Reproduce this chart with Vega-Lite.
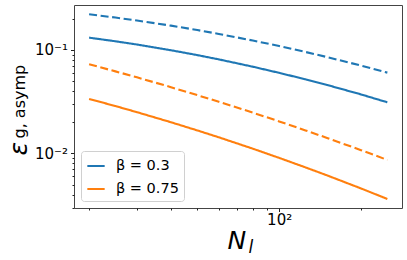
{
  "$schema": "https://vega.github.io/schema/vega-lite/v6.json",
  "width": 328,
  "height": 203,
  "autosize": {"type": "none"},
  "padding": {"left": 74, "top": 5, "right": 5, "bottom": 52},
  "background": "white",
  "config": {
    "font": "DejaVu Sans",
    "view": {"stroke": "#444", "strokeWidth": 1},
    "axis": {
      "labelFont": "DejaVu Sans",
      "titleFont": "DejaVu Sans",
      "domain": false,
      "grid": false,
      "tickColor": "#222",
      "tickWidth": 1,
      "labelColor": "#000",
      "titleColor": "#000",
      "labelFontSize": 15,
      "titleFontWeight": "normal"
    },
    "legend": {
      "orient": "bottom-left",
      "offset": 7,
      "strokeColor": "#d0d0d0",
      "cornerRadius": 3,
      "fillColor": "white",
      "padding": 5,
      "symbolType": "stroke",
      "symbolStrokeWidth": 2,
      "symbolSize": 300,
      "labelFont": "DejaVu Sans",
      "labelFontSize": 14.5,
      "labelColor": "#000",
      "labelOffset": 10,
      "rowPadding": 6
    }
  },
  "data": {
    "values": [
      {"N": 20, "b": 0.3, "s": "dashed", "eps": 0.2213},
      {"N": 25, "b": 0.3, "s": "dashed", "eps": 0.2057},
      {"N": 30, "b": 0.3, "s": "dashed", "eps": 0.1926},
      {"N": 40, "b": 0.3, "s": "dashed", "eps": 0.1718},
      {"N": 50, "b": 0.3, "s": "dashed", "eps": 0.1557},
      {"N": 60, "b": 0.3, "s": "dashed", "eps": 0.1429},
      {"N": 80, "b": 0.3, "s": "dashed", "eps": 0.1234},
      {"N": 100, "b": 0.3, "s": "dashed", "eps": 0.1091},
      {"N": 125, "b": 0.3, "s": "dashed", "eps": 0.0956},
      {"N": 150, "b": 0.3, "s": "dashed", "eps": 0.0854},
      {"N": 200, "b": 0.3, "s": "dashed", "eps": 0.0706},
      {"N": 250, "b": 0.3, "s": "dashed", "eps": 0.0604},
      {"N": 20, "b": 0.3, "s": "solid", "eps": 0.1315},
      {"N": 25, "b": 0.3, "s": "solid", "eps": 0.1213},
      {"N": 30, "b": 0.3, "s": "solid", "eps": 0.1129},
      {"N": 40, "b": 0.3, "s": "solid", "eps": 0.0994},
      {"N": 50, "b": 0.3, "s": "solid", "eps": 0.0892},
      {"N": 60, "b": 0.3, "s": "solid", "eps": 0.0811},
      {"N": 80, "b": 0.3, "s": "solid", "eps": 0.0689},
      {"N": 100, "b": 0.3, "s": "solid", "eps": 0.0601},
      {"N": 125, "b": 0.3, "s": "solid", "eps": 0.052},
      {"N": 150, "b": 0.3, "s": "solid", "eps": 0.0459},
      {"N": 200, "b": 0.3, "s": "solid", "eps": 0.0372},
      {"N": 250, "b": 0.3, "s": "solid", "eps": 0.0312},
      {"N": 20, "b": 0.75, "s": "dashed", "eps": 0.0728},
      {"N": 25, "b": 0.75, "s": "dashed", "eps": 0.0621},
      {"N": 30, "b": 0.75, "s": "dashed", "eps": 0.0544},
      {"N": 40, "b": 0.75, "s": "dashed", "eps": 0.0437},
      {"N": 50, "b": 0.75, "s": "dashed", "eps": 0.0366},
      {"N": 60, "b": 0.75, "s": "dashed", "eps": 0.0316},
      {"N": 80, "b": 0.75, "s": "dashed", "eps": 0.0248},
      {"N": 100, "b": 0.75, "s": "dashed", "eps": 0.0204},
      {"N": 125, "b": 0.75, "s": "dashed", "eps": 0.0167},
      {"N": 150, "b": 0.75, "s": "dashed", "eps": 0.01413},
      {"N": 200, "b": 0.75, "s": "dashed", "eps": 0.01076},
      {"N": 250, "b": 0.75, "s": "dashed", "eps": 0.00865},
      {"N": 20, "b": 0.75, "s": "solid", "eps": 0.03365},
      {"N": 25, "b": 0.75, "s": "solid", "eps": 0.02869},
      {"N": 30, "b": 0.75, "s": "solid", "eps": 0.02505},
      {"N": 40, "b": 0.75, "s": "solid", "eps": 0.02003},
      {"N": 50, "b": 0.75, "s": "solid", "eps": 0.01669},
      {"N": 60, "b": 0.75, "s": "solid", "eps": 0.01432},
      {"N": 80, "b": 0.75, "s": "solid", "eps": 0.01112},
      {"N": 100, "b": 0.75, "s": "solid", "eps": 0.00906},
      {"N": 125, "b": 0.75, "s": "solid", "eps": 0.00733},
      {"N": 150, "b": 0.75, "s": "solid", "eps": 0.00614},
      {"N": 200, "b": 0.75, "s": "solid", "eps": 0.00459},
      {"N": 250, "b": 0.75, "s": "solid", "eps": 0.00363}
    ]
  },
  "layer": [
    {
      "mark": {"type": "line", "strokeWidth": 2.1},
      "encoding": {
        "x": {
          "field": "N",
          "type": "quantitative",
          "scale": {"type": "log", "domain": [17.6, 283], "nice": false},
          "axis": {
            "orient": "bottom",
            "values": [20, 30, 40, 50, 60, 70, 80, 90, 100, 200],
            "labelExpr": "datum.value == 100 ? '10²' : ''",
            "labelOverlap": false,
            "labelFlush": false,
            "labelPadding": 1,
            "tickSize": {"condition": {"test": "datum.value == 100", "value": 3.5}, "value": 2},
            "title": "N",
            "titleFontSize": 25,
            "titleFontStyle": "italic",
            "titleAngle": 0,
            "titleAlign": "left",
            "titleBaseline": "alphabetic",
            "titleX": 153,
            "titleY": 40
          }
        },
        "y": {
          "field": "eps",
          "type": "quantitative",
          "scale": {"type": "log", "domain": [0.00297, 0.272], "nice": false},
          "axis": {
            "orient": "left",
            "values": [0.003, 0.004, 0.005, 0.006, 0.007, 0.008, 0.009, 0.01, 0.02, 0.03, 0.04, 0.05, 0.06, 0.07, 0.08, 0.09, 0.1, 0.2],
            "labelExpr": "datum.value == 0.1 ? '10⁻¹' : datum.value == 0.01 ? '10⁻²' : ''",
            "labelOverlap": false,
            "labelFlush": false,
            "labelPadding": 3,
            "tickSize": {"condition": {"test": "datum.value == 0.1 || datum.value == 0.01", "value": 3.5}, "value": 2},
            "title": "ε",
            "titleFontSize": 25,
            "titleFontStyle": "italic",
            "titleAngle": -90,
            "titleAlign": "left",
            "titleBaseline": "alphabetic",
            "titleX": -48,
            "titleY": 150
          }
        },
        "color": {
          "field": "b",
          "type": "nominal",
          "scale": {"domain": [0.3, 0.75], "range": ["#1f77b4", "#ff7f0e"]},
          "legend": {"title": null, "labelExpr": "'β = ' + datum.label"}
        },
        "strokeDash": {
          "field": "s",
          "type": "nominal",
          "scale": {"domain": ["solid", "dashed"], "range": [[1, 0], [8, 3.6]]},
          "legend": null
        }
      }
    },
    {
      "mark": {"type": "line", "strokeOpacity": 0, "strokeWidth": 0},
      "encoding": {
        "x": {
          "field": "N",
          "type": "quantitative",
          "axis": {
            "orient": "bottom",
            "labels": false,
            "ticks": false,
            "domain": false,
            "title": "l",
            "titleFontSize": 17,
            "titleFontStyle": "italic",
            "titleAngle": 0,
            "titleAlign": "left",
            "titleBaseline": "alphabetic",
            "titleX": 174,
            "titleY": 44
          }
        },
        "y": {
          "field": "eps",
          "type": "quantitative",
          "axis": {
            "orient": "left",
            "labels": false,
            "ticks": false,
            "domain": false,
            "title": "g, asymp",
            "titleFontSize": 16,
            "titleAngle": -90,
            "titleAlign": "left",
            "titleBaseline": "alphabetic",
            "titleX": -50,
            "titleY": 133
          }
        },
        "detail": {"field": "s", "type": "nominal"}
      }
    }
  ],
  "resolve": {"axis": {"x": "independent", "y": "independent"}}
}
